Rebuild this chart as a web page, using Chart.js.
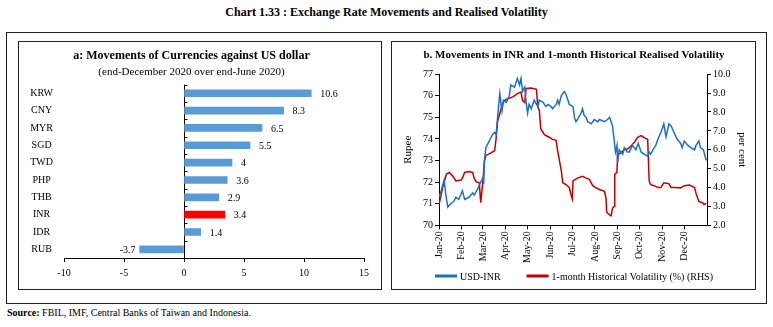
<!DOCTYPE html>
<html>
<head>
<meta charset="utf-8">
<script src="https://cdn.jsdelivr.net/npm/chart.js@4.4.0/dist/chart.umd.min.js"></script>
<style>
  body { margin: 0; background: #fff; width: 773px; height: 327px; position: relative; overflow: hidden;
         font-family: "Liberation Serif", serif; color: #000; }
  #title { position: absolute; left: 0; top: 5px; width: 773px; text-align: center; font-weight: bold; font-size: 12px; }
  #frame { position: absolute; left: 6px; top: 32px; width: 759px; height: 270px; border: 1px solid #222; }
  .panel { position: absolute; top: 41px; height: 247px; border: 1px solid #222; }
  #pa { left: 18px; width: 362px; }
  #pb { left: 391px; width: 363px; }
  canvas { position: absolute; }
  #bars { left: 19px; top: 43px; }
  #lines { left: 393px; top: 43px; }
  #source { position: absolute; left: 7px; top: 307px; font-size: 10px; }
</style>
</head>
<body>
<div id="title">Chart 1.33 : Exchange Rate Movements and Realised Volatility</div>
<div id="frame"></div>
<div class="panel" id="pa"></div>
<div class="panel" id="pb"></div>
<canvas id="bars" width="361" height="245"></canvas>
<canvas id="lines" width="362" height="245"></canvas>
<div id="source"><b>Source:</b> FBIL, IMF, Central Banks of Taiwan and Indonesia.</div>
<script>
// panel a: change against US dollar, per cent
var currencies = ['KRW', 'CNY', 'MYR', 'SGD', 'TWD', 'PHP', 'THB', 'INR', 'IDR', 'RUB'];
var change = [10.6, 8.3, 6.5, 5.5, 4, 3.6, 2.9, 3.4, 1.4, -3.7];
var changeTicks = [-10, -5, 0, 5, 10, 15];

// panel b: daily USD-INR and 1-month realised volatility, 2020
var usdDates = ['01-01','01-04','01-08','01-10','01-13','01-17','01-21','01-24','01-28','02-02','02-05','02-11',
  '02-16','02-18','02-23','02-27','03-01','03-02','03-03','03-05','03-08','03-11','03-14','03-17','03-19','03-21',
  '03-24','03-27','03-29','04-02','04-06','04-08','04-13','04-17','04-20','04-22','04-24','04-27','04-29','05-01',
  '05-03','05-06','05-10','05-15','05-17','05-22','05-26','05-29','06-02','06-04','06-09','06-11','06-13','06-16',
  '06-20','06-22','06-25','06-27','07-02','07-04','07-06','07-08','07-13','07-15','07-17','07-20','07-22','07-27',
  '07-31','08-05','08-07','08-14','08-18','08-21','08-23','08-25','08-27','08-29','08-31','09-01','09-03','09-08',
  '09-10','09-14','09-17','09-21','09-26','09-29','10-03','10-07','10-12','10-14','10-16','10-21','10-23','10-26',
  '10-30','11-03','11-06','11-10','11-13','11-17','11-21','11-26','11-28','12-01','12-06','12-10','12-15','12-17',
  '12-21','12-23','12-27','12-31'];
var usdInr = [71.3,71.6,72.1,71.5,70.85,71.0,71.1,71.3,71.2,71.6,71.2,71.3,
  71.5,71.4,71.7,72.0,72.2,71.9,73.0,73.6,73.8,74.0,74.2,74.3,74.2,75.0,
  76.1,75.3,75.8,75.7,76.0,76.5,76.4,76.8,76.5,76.8,76.2,76.4,75.7,75.2,
  75.6,75.4,75.8,75.5,75.8,75.7,75.5,75.6,75.5,75.4,75.6,75.8,75.6,76.0,
  76.2,76.1,75.8,75.6,75.5,75.0,74.8,74.9,75.2,75.4,75.1,75.0,74.8,74.7,
  74.9,74.8,74.9,74.8,74.9,75.0,74.8,74.6,74.0,73.4,73.7,72.9,73.5,73.3,
  73.6,73.4,73.4,73.7,73.5,73.8,73.4,73.3,73.2,73.4,73.3,73.6,73.7,74.0,
  74.3,74.7,74.1,74.7,74.6,74.3,74.0,73.8,73.6,73.9,73.7,73.6,73.5,73.7,
  73.9,73.6,73.5,73.0];

var volDates = ['01-01','01-06','01-11','01-15','01-20','01-24','01-31','02-02','02-05','02-11','02-16','02-18',
  '02-21','02-25','02-27','03-01','03-03','03-05','03-10','03-17','03-19','03-21','03-26','03-30','04-04','04-11',
  '04-17','04-22','04-24','04-27','04-29','05-06','05-13','05-15','05-17','05-19','05-24','05-31','06-04','06-09',
  '06-11','06-16','06-18','06-22','06-27','06-29','07-01','07-02','07-08','07-15','07-20','07-24','07-29','08-02',
  '08-07','08-14','08-16','08-17','08-21','08-23','08-25','08-27','08-28','08-31','09-01','09-06','09-10','09-15',
  '09-19','09-24','09-28','10-03','10-07','10-12','10-14','10-16','10-21','10-26','10-30','11-03','11-10','11-13',
  '11-19','11-26','12-01','12-08','12-15','12-17','12-21','12-26','12-28','12-31'];
var volatility = [3.1,4.0,4.7,4.8,4.6,4.35,4.4,4.5,4.8,4.85,4.8,4.5,
  4.3,4.25,3.2,4.35,5.4,5.7,5.8,5.95,6.6,7.5,8.2,8.6,8.7,8.8,
  8.97,9.05,8.6,8.5,9.25,9.27,9.2,8.25,8.1,7.1,6.8,6.65,6.55,6.5,
  5.95,4.9,4.25,4.17,4.0,3.65,3.4,4.35,4.5,4.6,4.5,4.45,4.1,4.0,
  3.9,3.8,3.45,2.7,2.55,2.5,2.9,3.0,4.7,4.8,5.75,5.85,6.0,6.05,
  6.2,6.4,6.65,6.75,6.65,6.55,4.35,4.15,4.1,4.0,4.0,4.25,4.2,4.0,
  4.0,3.98,4.1,4.13,4.0,3.7,3.25,3.2,3.1,3.15];

var monthLabels = ['Jan-20','Feb-20','Mar-20','Apr-20','May-20','Jun-20','Jul-20','Aug-20','Sep-20','Oct-20','Nov-20','Dec-20'];

var serif = '"Liberation Serif", serif';
Chart.defaults.color = '#000';
Chart.defaults.font.family = serif;
Chart.defaults.font.size = 10;

function dayOfYear(md) {
  var p = md.split('-');
  return (Date.UTC(2020, +p[0] - 1, +p[1]) - Date.UTC(2020, 0, 1)) / 864e5;
}

// value labels beside each bar, plus the small ticks on the zero line
var barLabels = {
  id: 'barLabels',
  afterDatasetsDraw: function(chart) {
    var ctx = chart.ctx;
    var meta = chart.getDatasetMeta(0);
    ctx.save();
    ctx.font = '10px ' + serif;
    ctx.fillStyle = '#000';
    ctx.textBaseline = 'middle';
    meta.data.forEach(function(bar, i) {
      var v = change[i];
      if (v >= 0) {
        ctx.textAlign = 'left';
        ctx.fillText(String(v), bar.x + 9, bar.y + 1);
      } else {
        ctx.textAlign = 'right';
        ctx.fillText(String(v), bar.x - 4, bar.y + 1);
      }
    });
    var x0 = Math.round(chart.scales.x.getPixelForValue(0)) + 0.5;
    var ys = chart.scales.y;
    var step = ys.height / currencies.length;
    ctx.strokeStyle = '#000';
    ctx.lineWidth = 1;
    ctx.beginPath();
    for (var i = 0; i < currencies.length; i++) {
      var py = Math.round(ys.top + i * step) + 0.5;
      ctx.moveTo(x0, py);
      ctx.lineTo(x0 + 3, py);
    }
    ctx.stroke();
    ctx.restore();
  }
};

// legend row under the month labels: short line swatch, label, wide gap
var lineLegend = {
  id: 'lineLegend',
  afterDraw: function(chart) {
    var ctx = chart.ctx;
    var sets = chart.data.datasets;
    var swatch = 22, textGap = 3, itemGap = 26, y = 233;
    ctx.save();
    ctx.font = '10px ' + serif;
    ctx.textBaseline = 'middle';
    ctx.textAlign = 'left';
    var total = 0;
    sets.forEach(function(ds, i) {
      total += swatch + textGap + ctx.measureText(ds.label).width + (i ? itemGap : 0);
    });
    var x = (chart.width - total) / 2;
    sets.forEach(function(ds, i) {
      if (i) x += itemGap;
      ctx.fillStyle = ds.borderColor;
      ctx.fillRect(x, y - 1.5, swatch, 3);
      x += swatch + textGap;
      ctx.fillStyle = '#000';
      ctx.fillText(ds.label, x, y + 1);
      x += ctx.measureText(ds.label).width;
    });
    ctx.restore();
  }
};

new Chart(document.getElementById('bars'), {
  type: 'bar',
  data: {
    labels: currencies,
    datasets: [{
      data: change,
      backgroundColor: currencies.map(function(c) { return c === 'INR' ? '#ff0000' : '#5b9bd5'; }),
      barThickness: 7
    }]
  },
  options: {
    indexAxis: 'y',
    responsive: false,
    animation: false,
    layout: { padding: { right: 16, bottom: 4 } },
    plugins: {
      legend: { display: false },
      tooltip: { enabled: false },
      title: {
        display: true,
        text: 'a: Movements of Currencies against US dollar',
        font: { size: 12, weight: 'bold' },
        padding: { top: 6, bottom: 2 }
      },
      subtitle: {
        display: true,
        text: '(end-December 2020 over end-June 2020)',
        font: { size: 11 },
        padding: { top: 0, bottom: 6 }
      }
    },
    scales: {
      x: {
        min: -10,
        max: 15,
        afterBuildTicks: function(s) { s.ticks = changeTicks.map(function(v) { return { value: v }; }); },
        grid: {
          color: function(c) { return c.tick && c.tick.value === 0 ? '#000' : 'rgba(0,0,0,0)'; },
          tickColor: '#000',
          tickLength: 4
        },
        border: { color: '#000' },
        ticks: { padding: 5 }
      },
      y: {
        grid: { display: false, drawTicks: false },
        border: { display: false },
        ticks: { crossAlign: 'center', padding: 11 },
        afterFit: function(s) { s.width = 45; }
      }
    }
  },
  plugins: [barLabels]
});

new Chart(document.getElementById('lines'), {
  type: 'line',
  data: {
    datasets: [{
      label: 'USD-INR',
      data: usdDates.map(function(d, i) { return { x: dayOfYear(d), y: usdInr[i] }; }),
      borderColor: '#1c70c4',
      borderWidth: 1.5,
      pointRadius: 0,
      yAxisID: 'y'
    }, {
      label: '1-month Historical Volatility (%) (RHS)',
      data: volDates.map(function(d, i) { return { x: dayOfYear(d), y: volatility[i] }; }),
      borderColor: '#c00000',
      borderWidth: 1.5,
      pointRadius: 0,
      yAxisID: 'y1'
    }]
  },
  options: {
    responsive: false,
    animation: false,
    layout: { padding: { bottom: 23 } },
    plugins: {
      tooltip: { enabled: false },
      legend: { display: false },
      title: {
        display: true,
        text: 'b. Movements in INR and 1-month Historical Realised Volatility',
        font: { size: 11, weight: 'bold' },
        padding: { top: 6, bottom: 12 }
      }
    },
    scales: {
      x: {
        type: 'linear',
        min: 0,
        max: 366,
        afterBuildTicks: function(s) {
          s.ticks = monthLabels.map(function(m, i) { return { value: (Date.UTC(2020, i, 1) - Date.UTC(2020, 0, 1)) / 864e5 }; });
        },
        grid: { drawOnChartArea: false, color: '#000', tickLength: 4 },
        border: { color: '#000' },
        ticks: {
          autoSkip: false, minRotation: 90, maxRotation: 90, padding: 2,
          callback: function(v, i) { return monthLabels[i]; }
        }
      },
      y: {
        position: 'left',
        min: 70,
        max: 77,
        ticks: { stepSize: 1, padding: 2 },
        grid: { drawOnChartArea: false, color: '#000', tickLength: 4 },
        border: { color: '#000' },
        title: { display: true, text: 'Rupee', font: { size: 11 }, padding: { top: 9, bottom: 0 } },
        afterFit: function(s) { s.width = 46; }
      },
      y1: {
        position: 'right',
        min: 2,
        max: 10,
        ticks: { stepSize: 1, padding: 2, callback: function(v) { return v.toFixed(1); } },
        grid: { drawOnChartArea: false, color: '#000', tickLength: 4 },
        border: { color: '#000' },
        title: { display: true, text: 'per cent', font: { size: 11 }, padding: { top: 7, bottom: 0 } },
        afterFit: function(s) { s.width = 48; }
      }
    }
  },
  plugins: [lineLegend]
});
</script>
</body>
</html>
